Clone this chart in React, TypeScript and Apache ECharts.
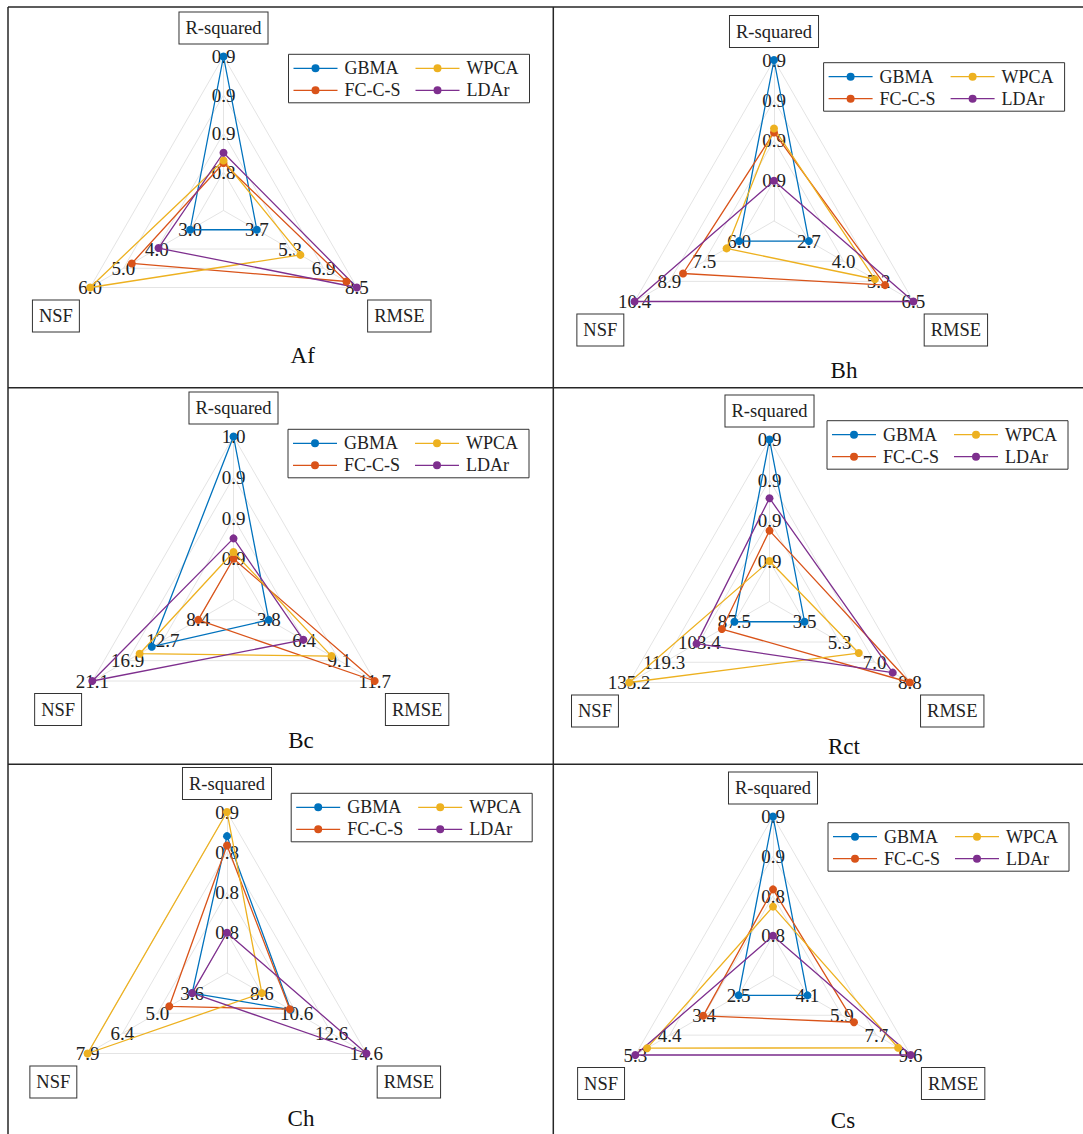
import React, { useEffect, useRef } from 'react';
import * as echarts from 'echarts';

const FONT = "'Liberation Serif', 'Times New Roman', serif";

const metrics = ['R-squared', 'NSF', 'RMSE'];
const methods = ['GBMA', 'FC-C-S', 'WPCA', 'LDAr'];
const legendColumns = [
  ['GBMA', 'FC-C-S'],
  ['WPCA', 'LDAr'],
];
const colors = ['#0072BD', '#D95319', '#EDB120', '#7E2F8E'];
const panelNames = ['Af', 'Bh', 'Bc', 'Rct', 'Ch', 'Cs'];

// innermost-ring and outermost-ring values of each axis [R-squared, NSF, RMSE]
const afLow = [0.84, 3.0, 3.7];
const afHigh = [0.93, 6.0, 8.5];
const bhLow = [0.87, 6.0, 2.7];
const bhHigh = [0.93, 10.4, 6.5];
const bcLow = [0.87, 8.43, 3.8];
const bcHigh = [0.96, 21.13, 11.7];
const rctLow = [0.87, 87.5, 3.5];
const rctHigh = [0.93, 135.2, 8.8];
const chLow = [0.78, 3.57, 8.6];
const chHigh = [0.87, 7.87, 14.6];
const csLow = [0.81, 2.5, 4.06];
const csHigh = [0.9, 5.3, 9.56];

// values [R-squared, NSF, RMSE] per method: GBMA, FC-C-S, WPCA, LDAr
const afValues = [
  [0.93, 3.0, 3.7],
  [0.847, 4.75, 8.0],
  [0.849, 6.0, 5.79],
  [0.855, 3.95, 8.5],
];
const bhValues = [
  [0.93, 6.0, 2.7],
  [0.894, 8.36, 5.47],
  [0.896, 6.53, 5.1],
  [0.87, 10.4, 6.5],
];
const bcValues = [
  [0.96, 14.0, 3.8],
  [0.87, 8.43, 11.7],
  [0.875, 15.46, 8.48],
  [0.885, 21.13, 6.38],
];
const rctValues = [
  [0.93, 87.5, 3.5],
  [0.885, 93.2, 8.8],
  [0.87, 135.2, 6.23],
  [0.901, 104.7, 7.94],
];
const chValues = [
  [0.852, 3.57, 10.25],
  [0.845, 4.51, 10.2],
  [0.87, 7.87, 8.6],
  [0.78, 3.57, 14.6],
];
const csValues = [
  [0.9, 2.5, 4.06],
  [0.845, 3.46, 6.54],
  [0.832, 4.98, 8.89],
  [0.81, 5.3, 9.56],
];

const lows = [afLow, bhLow, bcLow, rctLow, chLow, csLow];
const highs = [afHigh, bhHigh, bcHigh, rctHigh, chHigh, csHigh];
const values = [afValues, bhValues, bcValues, rctValues, chValues, csValues];

// layout (pixels)
const layout = [
  { cx: 223.5, cy: 210.5, r: 154, lx: 288.5, ly: 54.3, tx: 302.7, ty: 355 },
  { cx: 774, cy: 221, r: 161, lx: 823.6, ly: 62.7, tx: 844, ty: 370 },
  { cx: 233.5, cy: 599.5, r: 163, lx: 288, ly: 429.3, tx: 301, ty: 740 },
  { cx: 769.5, cy: 601.5, r: 162, lx: 827, ly: 420.7, tx: 844, ty: 746.7 },
  { cx: 227, cy: 973, r: 161, lx: 291.2, ly: 793.3, tx: 301, ty: 1118 },
  { cx: 773, cy: 975.5, r: 159, lx: 828, ly: 822.7, tx: 843, ty: 1120 },
];
const legendBox = { w: 241, h: 48.5, col1: 5, col2: 127, top: 5 };

const legendIcon =
  'path://M0,3.35 L44,3.35 L44,4.65 L0,4.65 Z M18,4 A4,4 0 1,1 26,4 A4,4 0 1,1 18,4 Z';

const tableLines = [
  [8, 7, 1083, 7],
  [8, 7, 8, 1134],
  [553.3, 7, 553.3, 1134],
  [8, 387.7, 1083, 387.7],
  [8, 764.3, 1083, 764.3],
];

function buildOption() {
  const radar = layout.map((L, p) => ({
    center: [L.cx, L.cy],
    radius: L.r,
    startAngle: 90,
    shape: 'polygon',
    splitNumber: 4,
    nameGap: 13,
    nameMoveOverlap: false,
    indicator: metrics.map((name, i) => {
      const lo = lows[p][i];
      const hi = highs[p][i];
      const step = (hi - lo) / 3;
      return { name, min: lo - step, max: hi, nameMoveOverlap: false };
    }),
    axisName: {
      color: '#222',
      fontSize: 18.5,
      fontFamily: FONT,
      formatter: (name: string) =>
        name === 'R-squared' ? `{b|${name}}` : `{s| }\n{b|${name}}`,
      rich: {
        b: {
          fontSize: 18.5,
          fontFamily: FONT,
          color: '#222',
          padding: [6, 6, 6, 6],
          borderColor: '#333',
          borderWidth: 1,
          backgroundColor: '#fff',
        },
        s: { fontSize: 6, lineHeight: 44, height: 44 },
      },
    },
    axisLine: { show: true, lineStyle: { color: '#e4e4e4', width: 1 } },
    splitLine: { show: true, lineStyle: { color: '#e4e4e4', width: 1 } },
    splitArea: { show: false },
    axisTick: { show: false },
    axisLabel: {
      show: true,
      margin: 0,
      align: 'center',
      verticalAlign: 'middle',
      fontSize: 19,
      fontFamily: FONT,
      color: '#222',
      showMinLabel: true,
      showMaxLabel: true,
      formatter: (v: number, idx: number) =>
        idx === 0 || idx > 4 ? '' : Number(v).toFixed(1),
    },
  }));

  const series = layout.map((_, p) => ({
    type: 'radar',
    radarIndex: p,
    symbol: 'circle',
    symbolSize: 8,
    data: methods.map((m, k) => ({
      name: m,
      value: values[p][k],
      lineStyle: { color: colors[k], width: 1.3 },
      itemStyle: { color: colors[k] },
    })),
  }));

  const legend: any[] = [];
  layout.forEach((L) => {
    legendColumns.forEach((col, c) => {
      legend.push({
        left: L.lx + (c === 0 ? legendBox.col1 : legendBox.col2),
        top: L.ly + legendBox.top,
        orient: 'vertical',
        itemWidth: 44,
        itemHeight: 8,
        itemGap: 4,
        padding: 0,
        selectedMode: false,
        z: 5,
        textStyle: {
          fontFamily: FONT,
          fontSize: 18,
          color: '#222',
          padding: [0, 0, 0, 2],
        },
        data: col.map((name) => ({
          name,
          icon: legendIcon,
          itemStyle: { color: colors[methods.indexOf(name)], borderWidth: 0 },
        })),
      });
    });
  });

  const graphic: any[] = tableLines.map(([x1, y1, x2, y2]) => ({
    type: 'line',
    shape: { x1, y1, x2, y2 },
    style: { stroke: '#262626', lineWidth: 1.5 },
    silent: true,
  }));
  layout.forEach((L, p) => {
    graphic.push({
      type: 'rect',
      shape: { x: L.lx, y: L.ly, width: legendBox.w, height: legendBox.h },
      style: { fill: '#fff', stroke: '#333', lineWidth: 1 },
      z: 1,
      silent: true,
    });
    graphic.push({
      type: 'text',
      x: L.tx,
      y: L.ty,
      silent: true,
      style: {
        text: panelNames[p],
        align: 'center',
        verticalAlign: 'middle',
        fontSize: 23,
        fontFamily: FONT,
        fill: '#111',
      },
    });
  });

  return {
    animation: false,
    backgroundColor: '#fff',
    textStyle: { fontFamily: FONT },
    radar,
    series,
    legend,
    graphic,
  };
}

export default function App() {
  const ref = useRef<HTMLDivElement>(null);
  useEffect(() => {
    if (!ref.current) return;
    const chart = echarts.init(ref.current, undefined, { renderer: 'svg' });
    chart.setOption(buildOption() as any);
    return () => chart.dispose();
  }, []);
  return (
    <div
      ref={ref}
      style={{ position: 'fixed', left: 0, top: 0, width: 1083, height: 1134 }}
    />
  );
}
